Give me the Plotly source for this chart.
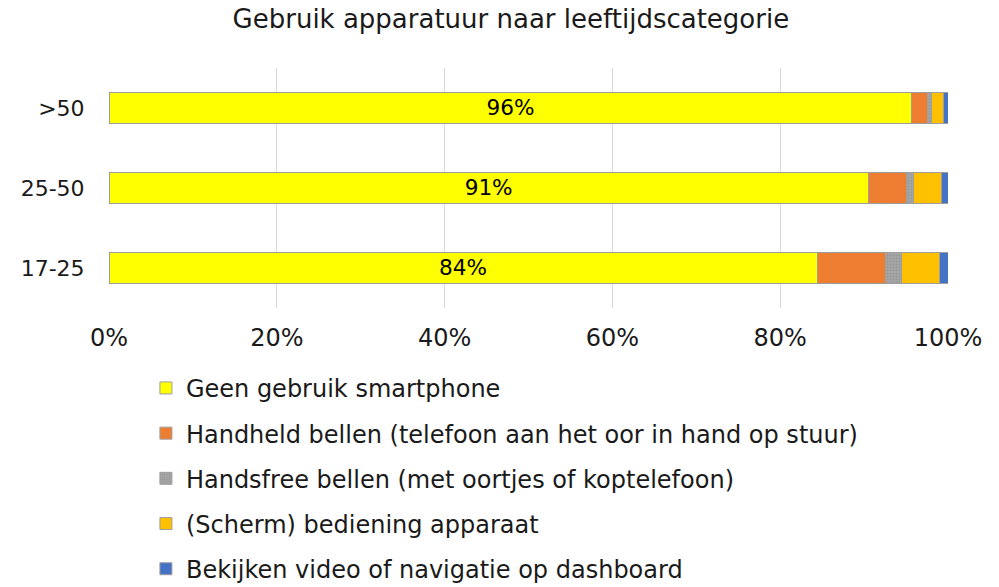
import plotly.graph_objects as go

categories = ["17-25", "25-50", ">50"]
series_names = [
    "Geen gebruik smartphone",
    "Handheld bellen (telefoon aan het oor in hand op stuur)",
    "Handsfree bellen (met oortjes of koptelefoon)",
    "(Scherm) bediening apparaat",
    "Bekijken video of navigatie op dashboard",
]
geen = [84.4, 90.5, 95.7]
handheld = [8.2, 4.5, 1.8]
handsfree = [1.8, 0.9, 0.5]
scherm = [4.6, 3.3, 1.5]
video = [1.0, 0.8, 0.5]
geen_labels = ["84%", "91%", "96%"]
tick_vals = [0, 20, 40, 60, 80, 100]
tick_text = ["0%", "20%", "40%", "60%", "80%", "100%"]

colors = ["#FFFF00", "#ED7D31", "#A5A5A5", "#FFC000", "#4472C4"]
values = [geen, handheld, handsfree, scherm, video]

FONT = "DejaVu Sans"
TXT = "#1a1a1a"
fig = go.Figure()
for i, (name, vals, col) in enumerate(zip(series_names, values, colors)):
    kw = {}
    if i == 0:
        kw = dict(text=geen_labels, textposition="inside", insidetextanchor="middle",
                  textfont=dict(family=FONT, size=24, color="black"))
    marker = dict(color=col, line=dict(color="#9E9E9E", width=1))
    if i == 2:
        marker["pattern"] = dict(shape=".", size=3, solidity=0.35, fgcolor="#8A8A8A", bgcolor=col)
    fig.add_trace(go.Bar(
        y=categories, x=vals, name=name, orientation="h", marker=marker,
        width=0.39, legendgroup=f"g{i}", hoverinfo="x+name", **kw))

fig.update_layout(
    barmode="stack",
    width=999, height=587,
    plot_bgcolor="white", paper_bgcolor="white",
    margin=dict(l=109, r=51, t=68, b=279, autoexpand=False),
    font=dict(family=FONT, size=24, color=TXT),
    title=dict(text="Gebruik apparatuur naar leeftijdscategorie", x=0.479, xref="paper",
               xanchor="center", y=1 - 19 / 587, yanchor="middle",
               font=dict(family=FONT, size=26, color=TXT)),
    xaxis=dict(range=[0, 100], tickvals=tick_vals, ticktext=tick_text, showgrid=True,
               gridcolor="#D9D9D9", gridwidth=1, zeroline=False, showline=False,
               ticks="outside", ticklen=8, tickcolor="rgba(0,0,0,0)",
               tickfont=dict(size=24)),
    yaxis=dict(showgrid=False, zeroline=False, showline=False, ticks="outside",
               ticklen=19, tickcolor="rgba(0,0,0,0)", tickfont=dict(size=22)),
    legend=dict(orientation="v", x=0.044, xanchor="left", y=-0.241, yanchor="top",
                traceorder="grouped", tracegroupgap=11, font=dict(family=FONT, size=24),
                itemwidth=30),
    uniformtext=dict(mode="hide", minsize=8),
)

fig.write_html("out.html", config={"displayModeBar": False},
               post_script="document.body.style.margin='0';")
